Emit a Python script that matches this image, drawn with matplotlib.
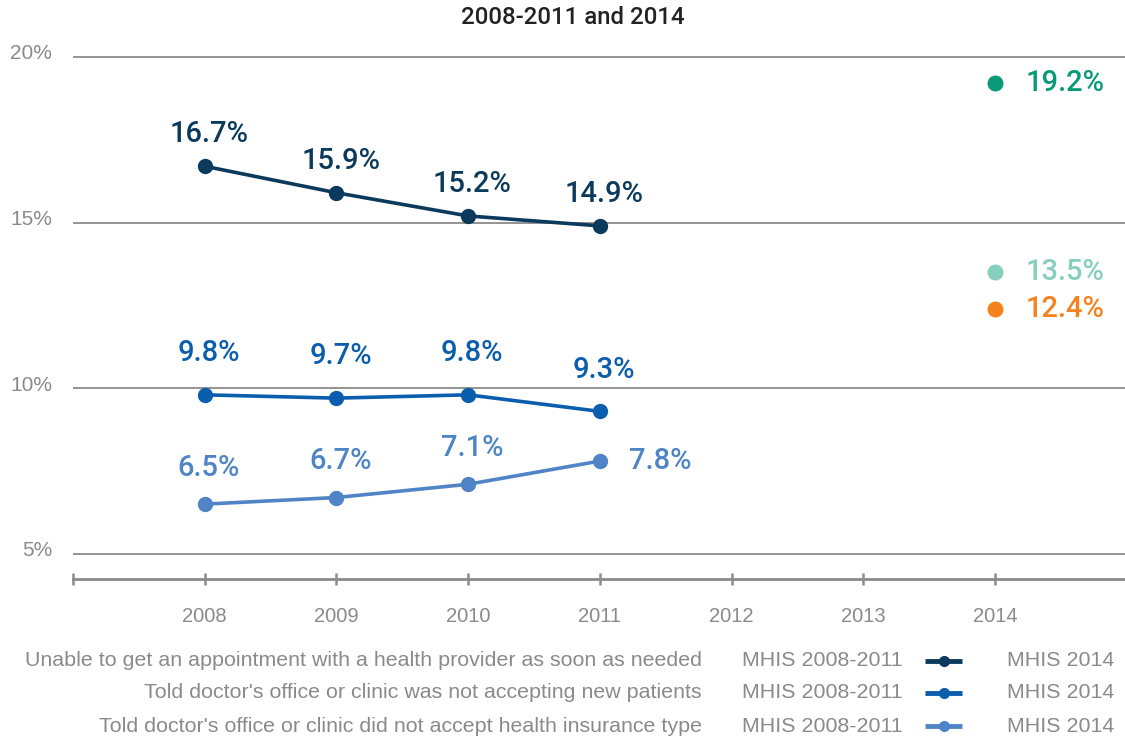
import matplotlib
matplotlib.use("Agg")
import matplotlib.pyplot as plt
from matplotlib.lines import Line2D
from matplotlib.transforms import ScaledTranslation

plt.rcParams["font.family"] = ["Liberation Sans", "DejaVu Sans"]

# ---- data ----
years = [2008, 2009, 2010, 2011]
unable_appt = [16.7, 15.9, 15.2, 14.9]
not_new_patients = [9.8, 9.7, 9.8, 9.3]
not_insurance = [6.5, 6.7, 7.1, 7.8]
year_2014 = 2014
values_2014 = [19.2, 13.5, 12.4]

series_names = [
    "Unable to get an appointment with a health provider as soon as needed",
    "Told doctor's office or clinic was not accepting new patients",
    "Told doctor's office or clinic did not accept health insurance type",
]
line_colors = ["#0b3a5c", "#0a5ead", "#4f84c6"]
dot_colors_2014 = ["#0a9a78", "#86cfbe", "#f5821f"]
xtick_years = [2008, 2009, 2010, 2011, 2012, 2013, 2014]
yticks = [5, 10, 15, 20]

GREY = "#8a8a8a"
LABEL_FONT = ["Roboto", "Liberation Sans", "DejaVu Sans"]

W, H = 1125, 742
fig = plt.figure(figsize=(W / 100, H / 100), dpi=100)

def fx(px):
    return px / W

def fy(py):
    return 1 - py / H

ax = fig.add_axes([fx(73), fy(579), fx(1126.6) - fx(73), fy(47) - fy(579)])
ax.set_xlim(2007, 2015)
ax.set_ylim(4.24, 20.3)

for s in ["top", "right", "left"]:
    ax.spines[s].set_visible(False)
ax.spines["bottom"].set_color(GREY)
ax.spines["bottom"].set_linewidth(2)

ax.set_yticks(yticks)
ax.set_yticklabels([f"{v}%" for v in yticks])
ax.tick_params(axis="y", length=0, pad=15, labelsize=15, labelcolor=GREY)
for lbl in ax.get_yticklabels():
    lbl.set_transform(lbl.get_transform() + ScaledTranslation(0, 0.05, fig.dpi_scale_trans))
ax.grid(axis="y", color=GREY, linewidth=1.3)
ax.set_axisbelow(True)

ax.set_xticks([2007] + xtick_years)
ax.set_xticklabels([""] + [str(y) for y in xtick_years])
ax.tick_params(axis="x", direction="inout", length=9, width=1.8, color=GREY,
               pad=16, labelsize=14.5, labelcolor=GREY)

# ---- lines 2008-2011 ----
all_series = [unable_appt, not_new_patients, not_insurance]
label_dy = [23, 30, 26]
for i, (vals, c) in enumerate(zip(all_series, line_colors)):
    ax.plot(years, vals, color=c, lw=2.6, marker="o", ms=10, zorder=3, clip_on=False)
    for j, (x, v) in enumerate(zip(years, vals)):
        if i == 2 and j == len(years) - 1:
            ax.annotate(f"{v}%", (x, v), xytext=(21, 0), textcoords="offset points",
                        ha="left", va="center", color=c, fontsize=21,
                        family=LABEL_FONT, fontweight="medium")
        else:
            ax.annotate(f"{v}%", (x, v), xytext=(3, label_dy[i]), textcoords="offset points",
                        ha="center", va="center", color=c, fontsize=21,
                        family=LABEL_FONT, fontweight="medium")

# ---- 2014 points ----
for v, c in zip(values_2014, dot_colors_2014):
    ax.plot([year_2014], [v], "o", color=c, ms=10.5, zorder=3)
    ax.annotate(f"{v}%", (year_2014, v), xytext=(22, 0), textcoords="offset points",
                ha="left", va="center", color=c, fontsize=21,
                family=LABEL_FONT, fontweight="medium")

# ---- title ----
fig.text(fx(573), fy(17), "2008-2011 and 2014", ha="center", va="center",
         fontsize=17.3, color="#222222", family=LABEL_FONT, fontweight="medium")

# ---- legend table ----
row_y = [661, 693, 726]
for name, c, py in zip(series_names, line_colors, row_y):
    fig.text(fx(702), fy(py), name, ha="right", va="center", fontsize=15.4, color=GREY)
    fig.text(fx(742), fy(py), "MHIS 2008-2011", ha="left", va="center", fontsize=15.4, color=GREY)
    fig.add_artist(Line2D([fx(925), fx(962)], [fy(py), fy(py)], transform=fig.transFigure,
                          color=c, lw=3.5, solid_capstyle="butt"))
    fig.add_artist(Line2D([fx(943.5)], [fy(py)], transform=fig.transFigure,
                          color=c, marker="o", ms=7, lw=0))
    fig.text(fx(1007), fy(py), "MHIS 2014", ha="left", va="center", fontsize=15.4, color=GREY)

fig.savefig("out.png", dpi=100, facecolor="white")
plt.close(fig)
